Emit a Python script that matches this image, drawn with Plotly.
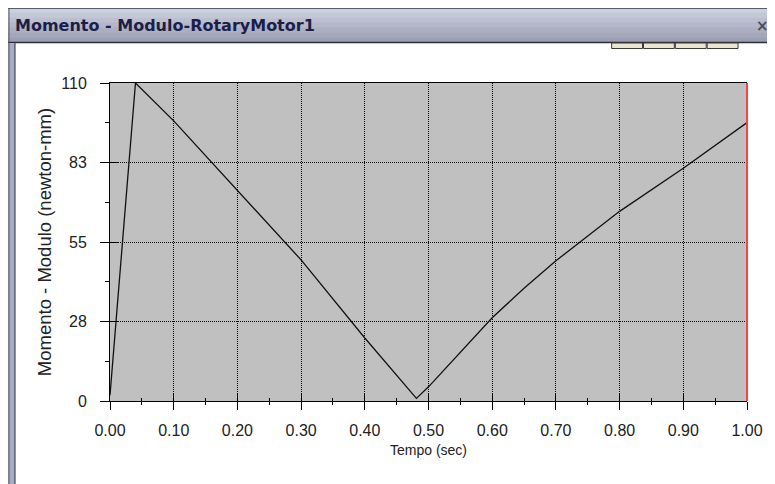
import plotly.graph_objects as go

# data
tempo = [0.0, 0.04, 0.10, 0.20, 0.30, 0.40, 0.481, 0.50, 0.60, 0.65, 0.70, 0.80, 0.90, 1.00]
momento = [2.0, 110.0, 96.9, 73.0, 48.8, 21.8, 0.9, 4.9, 28.8, 39.0, 48.5, 65.6, 80.5, 96.3]

x_ticks = [0.0, 0.1, 0.2, 0.3, 0.4, 0.5, 0.6, 0.7, 0.8, 0.9, 1.0]
x_labels = ["%.2f" % v for v in x_ticks]
y_ticks = [0, 27.5, 55, 82.5, 110]
y_labels = ["0", "28", "55", "83", "110"]

# page body has an 8px margin, so the figure itself starts at (8, 8)
OFF = 8
W, H = 775, 484
L, R, T, B = 110, 750, 83, 401   # plot area in page pixels


def px(x):
    return (x - L) / (R - L)


def py(y):
    return (B - y) / (B - T)


fig = go.Figure()
fig.add_trace(go.Scatter(x=tempo, y=momento, mode='lines',
                         line=dict(color='#111111', width=1.3),
                         hoverinfo='x+y', showlegend=False))
# empty trace on overlaid axes, used for the inside half of the tick marks
fig.add_trace(go.Scatter(x=[None], y=[None], xaxis='x2', yaxis='y2', showlegend=False))

font = 'Arial, Liberation Sans'
tickfont = dict(family=font, size=16, color='#222222')
dots = '1px,1px'

fig.update_layout(
    width=W - OFF, height=H - OFF,
    margin=dict(l=L - OFF, r=W - R, t=T - OFF, b=H - B),
    paper_bgcolor='white', plot_bgcolor='#c0c0c0',
    xaxis=dict(range=[0, 1], tickvals=x_ticks, ticktext=x_labels, tickfont=tickfont,
               ticks='outside', ticklen=8, tickcolor='black', tickwidth=1,
               minor=dict(dtick=0.05, ticks='outside', ticklen=3, tickcolor='black', showgrid=False),
               showline=True, linecolor='black', linewidth=1, mirror=True,
               showgrid=True, gridcolor='black', griddash=dots, gridwidth=1,
               zeroline=False, ticklabelstandoff=7,
               title=dict(text='Tempo (sec)', font=dict(family=font, size=14, color='#222222'),
                          standoff=6)),
    yaxis=dict(range=[0, 110], tickvals=y_ticks, ticktext=y_labels, tickfont=tickfont,
               ticks='outside', ticklen=9, tickcolor='black', tickwidth=1,
               minor=dict(dtick=13.75, ticks='outside', ticklen=4, tickcolor='black', showgrid=False),
               showline=True, linecolor='black', linewidth=1,
               showgrid=True, gridcolor='black', griddash=dots, gridwidth=1,
               zeroline=False, ticklabelstandoff=10,
               title=dict(text='Momento - Modulo (newton-mm)',
                          font=dict(family=font, size=18.5, color='#222222'),
                          standoff=4)),
    xaxis2=dict(range=[0, 1], overlaying='x', anchor='y2', side='bottom', tickvals=x_ticks,
                showticklabels=False, ticks='inside', ticklen=8, tickcolor='black',
                minor=dict(dtick=0.05, ticks='inside', ticklen=3, tickcolor='black'),
                showgrid=False, zeroline=False, showline=False),
    yaxis2=dict(range=[0, 110], overlaying='y', anchor='x2', side='left', tickvals=y_ticks,
                showticklabels=False, ticks='inside', ticklen=8, tickcolor='black',
                showgrid=False, zeroline=False, showline=False),
)

shapes = []
# red right border of the plot
shapes.append(dict(type='line', xref='x domain', yref='y domain', x0=1, x1=1, y0=0, y1=1,
                   line=dict(color='#ff4040', width=2)))

# window title bar, built from bands for a soft gradient
bands = ['#cdd0de', '#c4c7d7', '#bcbfd0', '#b4b7c9', '#acafc1', '#a4a7ba', '#9c9fb2']
top, bot = 8, 42
step = (bot - top) / len(bands)
for i, c in enumerate(bands):
    shapes.append(dict(type='rect', xref='paper', yref='paper', layer='above',
                       x0=px(OFF - 2), x1=px(W + 2), y0=py(top + i * step), y1=py(top + (i + 1) * step + 0.5),
                       fillcolor=c, line=dict(width=0)))
shapes.append(dict(type='line', xref='paper', yref='paper', x0=px(OFF - 2), x1=px(W + 2), y0=py(8.5), y1=py(8.5),
                   line=dict(color='#5a5c6c', width=1)))
shapes.append(dict(type='line', xref='paper', yref='paper', x0=px(OFF - 2), x1=px(W + 2), y0=py(42.5), y1=py(42.5),
                   line=dict(color='#2e2e36', width=1.5)))
# left window border
shapes.append(dict(type='rect', xref='paper', yref='paper', x0=px(OFF - 2), x1=px(15), y0=py(43), y1=py(H + 2),
                   fillcolor='#a9adc4', line=dict(width=0)))
shapes.append(dict(type='line', xref='paper', yref='paper', x0=px(8.5), x1=px(8.5), y0=py(8), y1=py(H + 2),
                   line=dict(color='#55586a', width=1)))
shapes.append(dict(type='line', xref='paper', yref='paper', x0=px(14.5), x1=px(14.5), y0=py(43), y1=py(H + 2),
                   line=dict(color='#3a3c48', width=1)))
# small tabs below the title bar
for i in range(4):
    x0 = 614 + i * 32
    shapes.append(dict(type='rect', xref='paper', yref='paper', x0=px(x0), x1=px(x0 + 31), y0=py(43), y1=py(48.5),
                       fillcolor='#ebe6cf', line=dict(color='#3a3a3a', width=1)))

fig.update_layout(shapes=shapes)

fig.add_annotation(xref='paper', yref='paper', x=px(13), y=py(26), xanchor='left', yanchor='middle',
                   text='<b>Momento - Modulo-RotaryMotor1</b>', showarrow=False,
                   font=dict(family='DejaVu Sans', size=16, color='#1b1f48'))
fig.add_annotation(xref='paper', yref='paper', x=px(773), y=py(26), xanchor='right', yanchor='middle',
                   text='<b>×</b>', showarrow=False, borderpad=0,
                   font=dict(family='DejaVu Sans', size=15, color='#4a4c5c'))

fig.write_html("out.html")
